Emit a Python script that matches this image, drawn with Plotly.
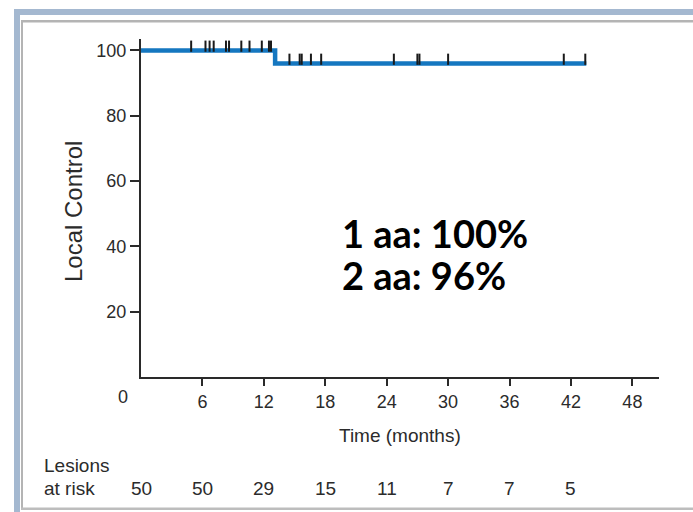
import plotly.graph_objects as go

# Kaplan-Meier local control curve (months, percent)
step_times = [0, 13.1, 43.5]
step_values = [100, 96, 96]

# Censored lesions (months) on each plateau
censor_upper = [4.9, 6.3, 6.7, 7.1, 8.3, 8.6, 9.8, 10.6, 11.8, 12.5, 12.7]
censor_lower = [14.5, 15.5, 15.7, 16.6, 17.6, 24.7, 27.0, 27.2, 30.0, 41.3, 43.4]
upper_level = 100
lower_level = 96

# Axes
x_ticks = [6, 12, 18, 24, 30, 36, 42, 48]
y_ticks = [20, 40, 60, 80, 100]

# Number at risk table
risk_times = [0, 6, 12, 18, 24, 30, 36, 42]
risk_counts = [50, 50, 29, 15, 11, 7, 7, 5]

summary_lines = ["1 aa: 100%", "2 aa: 96%"]

W, H = 693, 512
L, R, T, B = 141, 659, 39, 377
X_MAX, Y_MAX = 50.6, 103.5

SANS = "Liberation Sans, Arial, sans-serif"
TXT = "#2b2b2b"


def px(x):
    return (x - L) / (R - L)


def py(y):
    return (B - y) / (B - T)


def label(x, y, text, size, xref="paper", xanchor="center", angle=0, shift=(0, 0)):
    return dict(x=x, y=y, xref=xref, yref="paper", text=text, showarrow=False,
                xanchor=xanchor, yanchor="middle", textangle=angle,
                xshift=shift[0], yshift=shift[1],
                font=dict(family=SANS, size=size, color=TXT))


fig = go.Figure()

fig.add_trace(go.Scatter(
    x=step_times, y=step_values, mode="lines", line_shape="hv",
    line=dict(color="#1577c0", width=4.5), hoverinfo="skip", showlegend=False,
))

tick_lift = 1.3
fig.add_trace(go.Scatter(
    x=censor_upper + censor_lower,
    y=[upper_level + tick_lift] * len(censor_upper) + [lower_level + tick_lift] * len(censor_lower),
    mode="markers",
    marker=dict(symbol="line-ns", size=8, line=dict(color="#1a1a1a", width=2)),
    hoverinfo="skip", showlegend=False,
))

# Frame around the panel
shapes = [
    dict(type="rect", xref="paper", yref="paper", x0=px(14), x1=px(20), y0=py(9), y1=py(520),
         fillcolor="#a4b8d0", line_width=0, layer="below"),
    dict(type="rect", xref="paper", yref="paper", x0=px(14), x1=px(700), y0=py(9), y1=py(15),
         fillcolor="#a4b8d0", line_width=0, layer="below"),
    dict(type="rect", xref="paper", yref="paper", x0=px(21), x1=px(23), y0=py(20), y1=py(510),
         fillcolor="#b4b4b4", line_width=0, layer="below"),
    dict(type="rect", xref="paper", yref="paper", x0=px(21), x1=px(700), y0=py(20), y1=py(22.5),
         fillcolor="#b4b4b4", line_width=0, layer="below"),
    dict(type="rect", xref="paper", yref="paper", x0=px(21), x1=px(700), y0=py(507.5), y1=py(510),
         fillcolor="#bdbdbd", line_width=0, layer="below"),
]

annotations = [
    label(0, 0, "0", 18, xref="x", shift=(-18, -20)),
    label(px(73), py(212), "Local Control", 24, angle=-90),
    label(0.5, py(435), "Time (months)", 19),
    label(px(42), py(465), "Lesions", 19, xanchor="left"),
    label(px(42), py(488), "at risk", 19, xanchor="left"),
]
for t, n in zip(risk_times, risk_counts):
    annotations.append(label(t, py(488), str(n), 19, xref="x"))
for i, line in enumerate(summary_lines):
    annotations.append(dict(x=px(340), y=py(233 + 42 * i), xref="paper", yref="paper",
                            text="<b>%s</b>" % line, xanchor="left", yanchor="middle",
                            showarrow=False, font=dict(family="Lato, sans-serif", size=38, color="#000000")))

fig.update_layout(
    width=W, height=H,
    margin=dict(l=L, r=W - R, t=T, b=H - B),
    paper_bgcolor="white", plot_bgcolor="white",
    shapes=shapes, annotations=annotations,
    xaxis=dict(range=[0, X_MAX], tickvals=x_ticks, ticktext=[str(v) for v in x_ticks],
               showgrid=False, zeroline=False, showline=True, linecolor="#2a2a2a", linewidth=2,
               ticks="outside", ticklen=7, tickwidth=2, tickcolor="#2a2a2a",
               tickfont=dict(family=SANS, size=18, color=TXT), fixedrange=True),
    yaxis=dict(range=[0, Y_MAX], tickvals=y_ticks, ticktext=[str(v) for v in y_ticks],
               showgrid=False, zeroline=False, showline=True, linecolor="#2a2a2a", linewidth=2,
               ticks="outside", ticklen=9, tickwidth=2, tickcolor="#2a2a2a",
               tickfont=dict(family=SANS, size=18, color=TXT), fixedrange=True),
)

fig.write_html("out.html")
